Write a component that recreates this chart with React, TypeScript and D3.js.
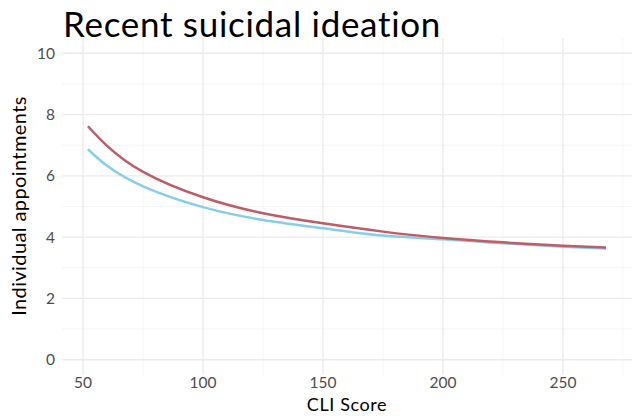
import React from "react";
import * as d3 from "d3";

const cliScore = [52, 60, 75, 100, 125, 150, 175, 200, 225, 250, 268];
const seriesRed = [7.62, 6.98, 6.13, 5.3, 4.78, 4.45, 4.18, 3.97, 3.83, 3.72, 3.66];
const seriesBlue = [6.87, 6.33, 5.66, 4.98, 4.56, 4.29, 4.05, 3.93, 3.8, 3.69, 3.63];
const xTicks = [50, 100, 150, 200, 250];
const xMinor = [75, 125, 175, 225, 275];
const yTicks = [0, 2, 4, 6, 8, 10];
const yMinor = [1, 3, 5, 7, 9];
const title = "Recent suicidal ideation";
const xLabel = "CLI Score";
const yLabel = "Individual appointments";

const W = 635;
const H = 419;
const panel = { left: 62, right: 632, top: 38, bottom: 375 };
const FONT = "Lato, 'Open Sans', sans-serif";

export default function App() {
  const xExtent = [52, 268];
  const xPad = (xExtent[1] - xExtent[0]) * 0.05;
  const x = d3
    .scaleLinear()
    .domain([xExtent[0] - xPad, xExtent[1] + xPad])
    .range([panel.left, panel.right]);
  const y = d3.scaleLinear().domain([-0.5, 10.5]).range([panel.bottom, panel.top]);

  const line = d3
    .line<number>()
    .x((_, i) => x(cliScore[i]))
    .y((d) => y(d))
    .curve(d3.curveNatural);

  return (
    <svg
      width={W}
      height={H}
      style={{ position: "absolute", left: 0, top: 0, background: "#fff", fontVariantLigatures: "none" }}
      fontFamily={FONT}
    >
      {yMinor.map((v) => (
        <line key={"ym" + v} x1={panel.left} x2={panel.right} y1={y(v)} y2={y(v)} stroke="#f2f2f2" strokeWidth={0.8} />
      ))}
      {xMinor.map((v) => (
        <line key={"xm" + v} x1={x(v)} x2={x(v)} y1={panel.top} y2={panel.bottom} stroke="#f2f2f2" strokeWidth={0.8} />
      ))}
      {yTicks.map((v) => (
        <line key={"y" + v} x1={panel.left} x2={panel.right} y1={y(v)} y2={y(v)} stroke="#ebebeb" strokeWidth={1.4} />
      ))}
      {xTicks.map((v) => (
        <line key={"x" + v} x1={x(v)} x2={x(v)} y1={panel.top} y2={panel.bottom} stroke="#ebebeb" strokeWidth={1.4} />
      ))}
      <path d={line(seriesBlue) || ""} fill="none" stroke="#87CEEB" strokeWidth={2.5} />
      <path d={line(seriesRed) || ""} fill="none" stroke="#BF5C65" strokeWidth={2.5} />
      {yTicks.map((v) => (
        <text key={"yt" + v} x={panel.left - 7} y={y(v)} dy="0.36em" textAnchor="end" fontSize={15.5} fill="#4d4d4d">
          {v}
        </text>
      ))}
      {xTicks.map((v) => (
        <text key={"xt" + v} x={x(v)} y={panel.bottom + 12.5} textAnchor="middle" fontSize={15.5} fill="#4d4d4d">
          {v}
        </text>
      ))}
      <text
        x={(panel.left + panel.right) / 2}
        y={411}
        textAnchor="middle"
        fontSize={18}
        letterSpacing={0.6}
        fill="#000"
      >
        {xLabel}
      </text>
      <text
        transform={`translate(26, 206) rotate(-90)`}
        textAnchor="middle"
        fontSize={20}
        letterSpacing={0.4}
        fill="#000"
      >
        {yLabel}
      </text>
      <text x={63} y={37} fontSize={35} letterSpacing={0.7} fill="#000">
        {title}
      </text>
    </svg>
  );
}
